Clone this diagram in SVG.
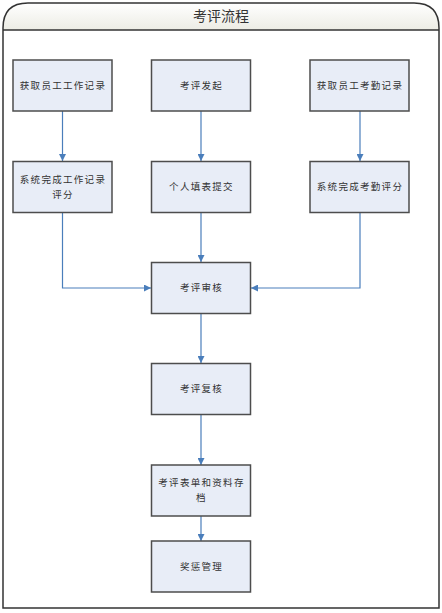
<svg xmlns="http://www.w3.org/2000/svg" width="442" height="613" viewBox="0 0 442 613">
<defs>
<linearGradient id="hg" x1="0" y1="0" x2="0" y2="1">
<stop offset="0" stop-color="#ffffff"/>
<stop offset="1" stop-color="#ececE4"/>
</linearGradient>
<marker id="ah" viewBox="0 0 10 10" refX="10" refY="5" markerWidth="7" markerHeight="7" markerUnits="userSpaceOnUse" orient="auto">
<path d="M0,0 L10,5 L0,10 z" fill="#4a7ebb"/>
</marker>
</defs>
<style>
.box{fill:#e8edf7;stroke:#4d4d4d;stroke-width:1.5}
.t{font-family:"Noto Sans CJK SC","Liberation Sans",sans-serif;font-size:9.5px;letter-spacing:1.3px;fill:#333;text-anchor:middle}
.c{fill:none;stroke:#4a7ebb;stroke-width:1.2;marker-end:url(#ah)}
</style>
<g id="frame">
<path d="M3,30 L3,28 Q3,3 28,3 L414,3 Q439,3 439,28 L439,30 Z" fill="url(#hg)"/>
<path d="M3,608 L3,28 Q3,3 28,3 L414,3 Q439,3 439,28 L439,608 Z" fill="none" stroke="#333" stroke-width="1.5"/>
<line x1="3" y1="30" x2="439" y2="30" stroke="#333" stroke-width="1.5"/>
<text x="221" y="21" font-family="Noto Sans CJK SC,Liberation Serif,serif" font-size="14" fill="#333" text-anchor="middle">考评流程</text>
</g>
<g id="connectors">
<line class="c" x1="62.5" y1="111" x2="62.5" y2="161"/>
<line class="c" x1="201" y1="111" x2="201" y2="161"/>
<line class="c" x1="360" y1="111" x2="360" y2="161"/>
<polyline class="c" points="62.5,212 62.5,288 151,288"/>
<line class="c" x1="201" y1="212" x2="201" y2="262"/>
<polyline class="c" points="360,212 360,288 251,288"/>
<line class="c" x1="201" y1="313" x2="201" y2="363"/>
<line class="c" x1="201" y1="414" x2="201" y2="465"/>
<line class="c" x1="201" y1="516" x2="201" y2="541"/>
</g>
<g id="n1"><rect class="box" x="13" y="60" width="99" height="51"/><text class="t" x="63" y="89">获取员工工作记录</text></g>
<g id="n2"><rect class="box" x="151.5" y="60" width="99" height="51"/><text class="t" x="201.5" y="89">考评发起</text></g>
<g id="n3"><rect class="box" x="310" y="60" width="99" height="51"/><text class="t" x="360" y="89">获取员工考勤记录</text></g>
<g id="n4"><rect class="box" x="13" y="161.5" width="99" height="51"/><text class="t" x="63" y="183">系统完成工作记录</text><text class="t" x="63" y="198">评分</text></g>
<g id="n5"><rect class="box" x="151.5" y="161.5" width="99" height="51"/><text class="t" x="201.5" y="190">个人填表提交</text></g>
<g id="n6"><rect class="box" x="310" y="161.5" width="99" height="51"/><text class="t" x="360" y="190">系统完成考勤评分</text></g>
<g id="n7"><rect class="box" x="151.5" y="262.5" width="99" height="51"/><text class="t" x="201.5" y="291">考评审核</text></g>
<g id="n8"><rect class="box" x="151.5" y="363.5" width="99" height="51"/><text class="t" x="201.5" y="392">考评复核</text></g>
<g id="n9"><rect class="box" x="151.5" y="465" width="99" height="51"/><text class="t" x="201.5" y="486">考评表单和资料存</text><text class="t" x="201.5" y="501">档</text></g>
<g id="n10"><rect class="box" x="151.5" y="541" width="99" height="51"/><text class="t" x="201.5" y="570">奖惩管理</text></g>
</svg>
